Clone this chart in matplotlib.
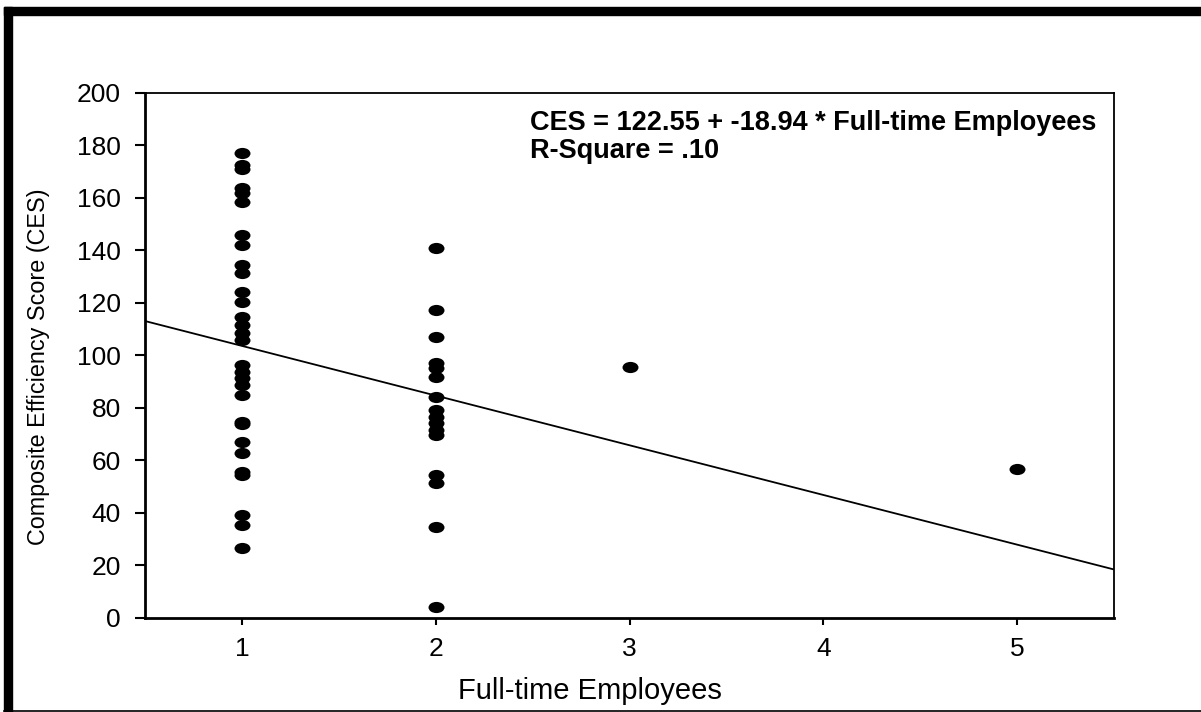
import numpy as np
import matplotlib
matplotlib.use("Agg")
import matplotlib.pyplot as plt
from matplotlib.path import Path
from matplotlib.patches import Rectangle
from matplotlib.lines import Line2D

plt.rcParams['font.family'] = ['Liberation Sans', 'DejaVu Sans']

# Data
x_one = [1] * 30
y_one = [177.2, 172.5, 171.0, 163.7, 162.0, 158.6, 145.9, 142.1, 134.5, 131.3,
         124.3, 120.4, 114.7, 111.6, 108.4, 105.8, 96.3, 93.8, 91.3, 88.7,
         84.9, 74.7, 73.8, 67.1, 62.7, 55.7, 54.5, 39.1, 35.3, 26.5]
x_two = [2] * 16
y_two = [140.8, 117.3, 107.1, 97.0, 95.2, 91.9, 84.2, 79.2, 76.6, 74.2,
         71.5, 69.6, 54.4, 51.4, 34.7, 4.0]
x_other = [3, 5]
y_other = [95.4, 56.6]

intercept = 122.55
slope = -18.94
r_square = ".10"

x_ticks = [1, 2, 3, 4, 5]
y_ticks = [0, 20, 40, 60, 80, 100, 120, 140, 160, 180, 200]

fig = plt.figure(figsize=(12.01, 7.12), dpi=100)
ax = fig.add_axes([145/1201, 1 - 617.7/712, (1114-145)/1201, (617.7-93)/712])

xs = np.array(x_one + x_two + x_other, dtype=float)
ys = np.array(y_one + y_two + y_other, dtype=float)

ellipse = Path.unit_circle().transformed(matplotlib.transforms.Affine2D().scale(1.0, 0.7))
ax.scatter(xs, ys, marker=ellipse, s=11.5**2, color='black', linewidths=0, zorder=3)

xl = np.array([0.5, 5.5])
ax.plot(xl, intercept + slope * xl, color='black', lw=1.3, zorder=2)

ax.set_xlim(0.5, 5.5)
ax.set_ylim(0, 200)
ax.set_xticks(x_ticks)
ax.set_yticks(y_ticks)
ax.tick_params(axis='both', direction='out', width=1.5, labelsize=19, color='black')
ax.tick_params(axis='y', length=7.2, pad=10)
ax.tick_params(axis='x', length=5, pad=9)
for s in ['left', 'bottom']:
    ax.spines[s].set_linewidth(2.0)
for s in ['top', 'right']:
    ax.spines[s].set_linewidth(1.3)

ax.set_xlabel("Full-time Employees", fontsize=21)
ax.set_ylabel("Composite Efficiency Score (CES)", fontsize=16.8)
ax.xaxis.set_label_coords((590 - 145) / 969, (617.7 - 677) / 524.7)
ax.yaxis.set_label_coords((50 - 145) / 969, (617.7 - 367) / 524.7)

ax.text(530/1201, 1 - 137/712,
        f"CES = {intercept:.2f} + {slope:.2f} * Full-time Employees\nR-Square = {r_square}",
        transform=fig.transFigure, fontsize=19.5, fontweight='bold',
        va='center', ha='left', linespacing=1.05)

# outer frame
fig.patches.append(Rectangle((4/1201, 0), 8/1201, (712-7)/712, transform=fig.transFigure,
                             color='black', zorder=10))
fig.patches.append(Rectangle((4/1201, 1-15/712), 1 - 4/1201, 8/712, transform=fig.transFigure,
                             color='black', zorder=10))
fig.lines.append(Line2D([4/1201, 1], [1/712, 1/712], transform=fig.transFigure,
                        color='black', lw=1.2))

fig.savefig("out.png", dpi=100)
